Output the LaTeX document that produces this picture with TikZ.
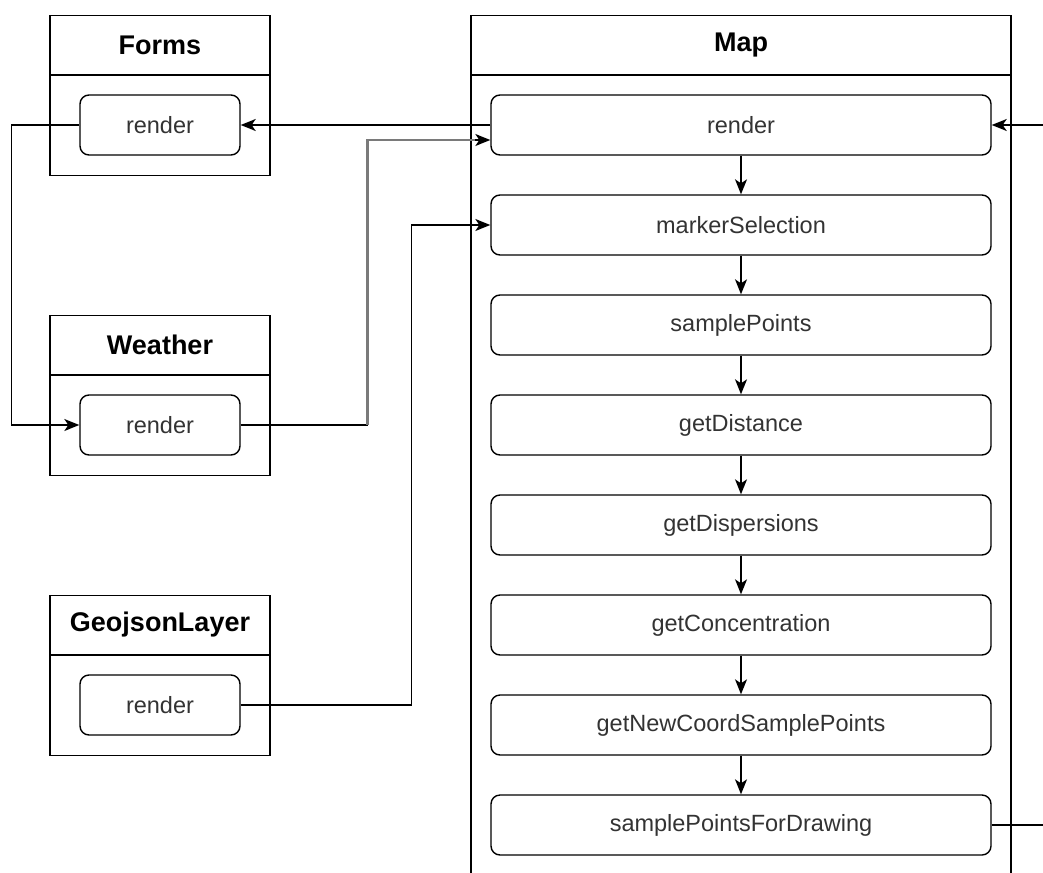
\documentclass[tikz,border=0pt]{standalone}
\usepackage{fontspec}
\setmainfont{Liberation Sans}
\usetikzlibrary{arrows.meta,positioning,calc}
\definecolor{Txt}{HTML}{333333}
\definecolor{Hl}{HTML}{7A7A7A}

\begin{document}
\begin{tikzpicture}[x=1pt,y=-1pt,line width=1.4pt,
  frame/.style={draw,minimum width=220pt,minimum height=160pt,inner sep=0pt},
  title/.style={font=\fontsize{27}{32}\selectfont\bfseries,inner sep=0pt},
  method/.style={draw,rounded corners=9pt,minimum height=60pt,inner sep=0pt,
    text=Txt,font=\fontsize{23.5}{28}\selectfont},
  link/.style={-{Stealth[length=15pt,width=12pt,inset=4pt]},line width=1.4pt}]
  \useasboundingbox (0,0) rectangle (1043,872);
  \clip (0,0) rectangle (1043,872);

  % classes on the left
  \foreach \c/\t/\y in {forms/Forms/15,weather/Weather/315,geojson/GeojsonLayer/595}{
    \node[frame,anchor=north] (\c) at (160,\y) {};
    \draw (\c.north west) ++(0,60) -- ++(220,0);
    \node[title] (\c T) at (160,\y+30) {\t};
  }
  \node[method,minimum width=160pt] (frender) at (160,125) {render};
  \node[method,minimum width=160pt] (wrender) at (160,425) {render};
  \node[method,minimum width=160pt] (grender) at (160,705) {render};

  % Map
  \node[frame,minimum width=540pt,minimum height=900pt,anchor=north] (map) at (741,15) {};
  \draw (map.north west) ++(0,60) -- ++(540,0);
  \node[title] (mapT) at (741,45) {Map};
  \foreach \n/\t [count=\i from 0] in {mrender/render,msel/markerSelection,
      msample/samplePoints,mdist/getDistance,mdisp/getDispersions,
      mconc/getConcentration,mnew/getNewCoordSamplePoints,mdraw/samplePointsForDrawing}
    \node[method,minimum width=500pt] (\n) at (741,125+100*\i) {\t};
  \foreach \a/\b in {mrender/msel,msel/msample,msample/mdist,mdist/mdisp,
      mdisp/mconc,mconc/mnew,mnew/mdraw}
    \draw[link] (\a) -- (\b);

  % calls
  \draw[link] (mrender.west) -- (frender.east);
  \draw[link] (mdraw.east) -- ++(80,0) |- (mrender.east);
  \draw[link] (frender.west) -- ++(-68,0) |- (wrender.west);
  \draw[link] (wrender.east) -- ++(127,0) coordinate (wbend) |- ($(mrender.west)+(0,15)$);
  \draw[Hl,line width=2.6pt] (wbend) |- ($(mrender.west)+(-15,15)$);
  \draw[link] (grender.east) -- ++(171,0) |- (msel.west);
\end{tikzpicture}
\end{document}
